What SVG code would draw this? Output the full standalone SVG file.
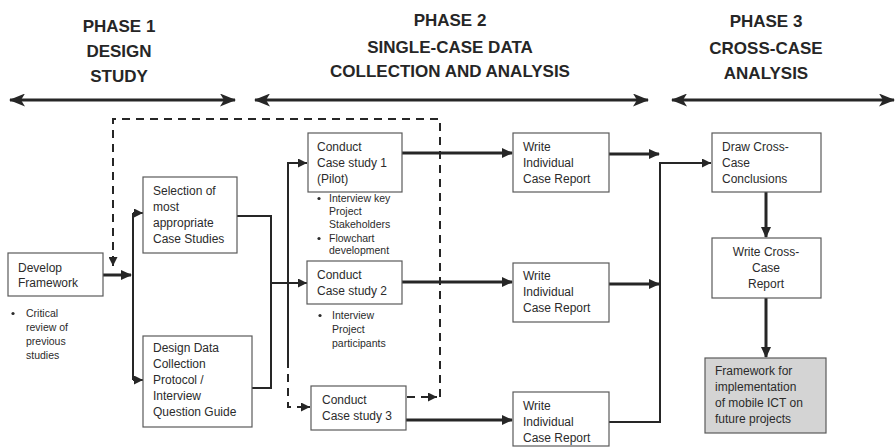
<svg xmlns="http://www.w3.org/2000/svg" width="896" height="447" viewBox="0 0 896 447">
<defs>
<style>
.hd{font-family:"Liberation Sans",Arial,sans-serif;font-weight:bold;font-size:17px;fill:#262626;text-anchor:middle}
.bx{fill:#fff;stroke:#5a5a5a;stroke-width:1.2}
.gx{fill:#d4d4d4;stroke:#5a5a5a;stroke-width:1.2}
.t{font-family:"Liberation Sans",Arial,sans-serif;font-size:12px;fill:#2b2b2b}
.s{font-family:"Liberation Sans",Arial,sans-serif;font-size:10.5px;fill:#2b2b2b}
.ph{stroke:#262626;stroke-width:3.2;fill:none}
.th{stroke:#262626;stroke-width:3;fill:none}
.tn{stroke:#262626;stroke-width:2;fill:none}
.ds{stroke:#262626;stroke-width:2;fill:none;stroke-dasharray:8 6}
</style>
<marker id="pa" markerUnits="userSpaceOnUse" markerWidth="16" markerHeight="13" refX="15" refY="6.5" orient="auto-start-reverse"><path d="M0,0 L16,6.5 L0,13 L4,6.5 z" fill="#262626"/></marker>
<marker id="ah" markerUnits="userSpaceOnUse" markerWidth="11" markerHeight="10" refX="10" refY="5" orient="auto"><path d="M0,0 L11,5 L0,10 z" fill="#262626"/></marker>
<marker id="as" markerUnits="userSpaceOnUse" markerWidth="9" markerHeight="9" refX="9" refY="4.5" orient="auto"><path d="M0,0 L9,4.5 L0,9 z" fill="#262626"/></marker>
</defs>
<rect width="896" height="447" fill="#fff"/>

<g id="phase1">
<text class="hd" x="119" y="32">PHASE 1</text>
<text class="hd" x="119" y="57">DESIGN</text>
<text class="hd" x="119" y="82">STUDY</text>
<line class="ph" x1="10" y1="100" x2="235" y2="100" marker-start="url(#pa)" marker-end="url(#pa)"/>
</g>
<g id="phase2">
<text class="hd" x="450" y="26">PHASE 2</text>
<text class="hd" x="450" y="53">SINGLE-CASE DATA</text>
<text class="hd" x="450" y="77">COLLECTION AND ANALYSIS</text>
<line class="ph" x1="255" y1="100" x2="648" y2="100" marker-start="url(#pa)" marker-end="url(#pa)"/>
</g>
<g id="phase3">
<text class="hd" x="766" y="27">PHASE 3</text>
<text class="hd" x="766" y="54">CROSS-CASE</text>
<text class="hd" x="766" y="79">ANALYSIS</text>
<line class="ph" x1="672" y1="100" x2="894" y2="100" marker-start="url(#pa)" marker-end="url(#pa)"/>
</g>

<g id="connectors">
<path class="ds" d="M440,397 V119 H113 V256"/>
<line class="tn" x1="113" y1="256" x2="113" y2="266" marker-end="url(#as)"/>
<line class="ds" x1="407" y1="397" x2="437" y2="397" stroke-dasharray="10 8"/>
<line class="tn" x1="430" y1="397" x2="437" y2="397" marker-end="url(#as)"/>
<line class="th" x1="103" y1="275" x2="131" y2="275" marker-end="url(#ah)"/>
<line class="tn" x1="133" y1="213" x2="133" y2="380"/>
<line class="tn" x1="133" y1="213" x2="143" y2="213" marker-end="url(#as)"/>
<line class="tn" x1="133" y1="380" x2="143" y2="380" marker-end="url(#as)"/>
<path class="tn" d="M237,216 H271 V388 H252"/>
<line class="tn" x1="271" y1="283" x2="307" y2="283" marker-end="url(#as)"/>
<path class="tn" d="M288,360 V163 H307" marker-end="url(#as)"/>
<path class="ds" d="M288,360 V407 H302"/>
<line class="tn" x1="302" y1="407" x2="310" y2="407" marker-end="url(#as)"/>
<line class="th" x1="402" y1="153" x2="512" y2="153" marker-end="url(#ah)"/>
<line class="th" x1="402" y1="282" x2="512" y2="282" marker-end="url(#ah)"/>
<line class="th" x1="406" y1="420" x2="512" y2="420" marker-end="url(#ah)"/>
<line class="th" x1="609" y1="154" x2="659" y2="154" marker-end="url(#ah)"/>
<line class="th" x1="609" y1="284" x2="659" y2="284" marker-end="url(#ah)"/>
<path class="tn" d="M609,422 H660 V163 H711" marker-end="url(#as)"/>
<line class="th" x1="766" y1="192" x2="766" y2="237" marker-end="url(#ah)"/>
<line class="th" x1="766" y1="298" x2="766" y2="357" marker-end="url(#ah)"/>
</g>

<g id="develop">
<rect class="bx" x="8" y="253" width="95" height="43"/>
<text class="t" x="18" y="272">Develop</text>
<text class="t" x="18" y="287">Framework</text>
<circle cx="13" cy="313.5" r="1.6" fill="#2b2b2b"/>
<text class="s" x="26" y="317">Critical</text>
<text class="s" x="26" y="331">review of</text>
<text class="s" x="26" y="345">previous</text>
<text class="s" x="26" y="359">studies</text>
</g>
<g id="selection">
<rect class="bx" x="143" y="177" width="94" height="76"/>
<text class="t" x="153" y="195">Selection of</text>
<text class="t" x="153" y="211">most</text>
<text class="t" x="153" y="227">appropriate</text>
<text class="t" x="153" y="243">Case Studies</text>
</g>
<g id="design">
<rect class="bx" x="143" y="336" width="109" height="91"/>
<text class="t" x="153" y="352">Design Data</text>
<text class="t" x="153" y="368">Collection</text>
<text class="t" x="153" y="384">Protocol /</text>
<text class="t" x="153" y="400">Interview</text>
<text class="t" x="153" y="416">Question Guide</text>
</g>
<g id="case1">
<rect class="bx" x="308" y="133" width="94" height="59"/>
<text class="t" x="317" y="151">Conduct</text>
<text class="t" x="317" y="167">Case study 1</text>
<text class="t" x="317" y="183">(Pilot)</text>
<circle cx="319" cy="198.5" r="1.6" fill="#2b2b2b"/>
<text class="s" x="329" y="202">Interview key</text>
<text class="s" x="329" y="215">Project</text>
<text class="s" x="329" y="228">Stakeholders</text>
<circle cx="319" cy="238.5" r="1.6" fill="#2b2b2b"/>
<text class="s" x="329" y="242">Flowchart</text>
<text class="s" x="329" y="254">development</text>
</g>
<g id="case2">
<rect class="bx" x="307" y="261" width="95" height="43"/>
<text class="t" x="317" y="279">Conduct</text>
<text class="t" x="317" y="295">Case study 2</text>
<circle cx="320" cy="315.5" r="1.6" fill="#2b2b2b"/>
<text class="s" x="332" y="319">Interview</text>
<text class="s" x="332" y="333">Project</text>
<text class="s" x="332" y="347">participants</text>
</g>
<g id="case3">
<rect class="bx" x="311" y="386" width="95" height="44"/>
<text class="t" x="322" y="404">Conduct</text>
<text class="t" x="322" y="420">Case study 3</text>
</g>
<g id="report1">
<rect class="bx" x="513" y="133" width="96" height="59"/>
<text class="t" x="523" y="151">Write</text>
<text class="t" x="523" y="167">Individual</text>
<text class="t" x="523" y="183">Case Report</text>
</g>
<g id="report2">
<rect class="bx" x="513" y="263" width="96" height="59"/>
<text class="t" x="523" y="280">Write</text>
<text class="t" x="523" y="296">Individual</text>
<text class="t" x="523" y="312">Case Report</text>
</g>
<g id="report3">
<rect class="bx" x="513" y="392" width="96" height="54"/>
<text class="t" x="523" y="410">Write</text>
<text class="t" x="523" y="426">Individual</text>
<text class="t" x="523" y="442">Case Report</text>
</g>
<g id="conclusions">
<rect class="bx" x="712" y="133" width="109" height="59"/>
<text class="t" x="722" y="151">Draw Cross-</text>
<text class="t" x="722" y="167">Case</text>
<text class="t" x="722" y="183">Conclusions</text>
</g>
<g id="crossreport">
<rect class="bx" x="712" y="238" width="109" height="60"/>
<text class="t" x="766" y="256" text-anchor="middle">Write Cross-</text>
<text class="t" x="766" y="272" text-anchor="middle">Case</text>
<text class="t" x="766" y="288" text-anchor="middle">Report</text>
</g>
<g id="framework">
<rect class="gx" x="705" y="358" width="121" height="75"/>
<text class="t" x="715" y="375">Framework for</text>
<text class="t" x="715" y="391">implementation</text>
<text class="t" x="715" y="407">of mobile ICT on</text>
<text class="t" x="715" y="423">future projects</text>
</g>
</svg>
